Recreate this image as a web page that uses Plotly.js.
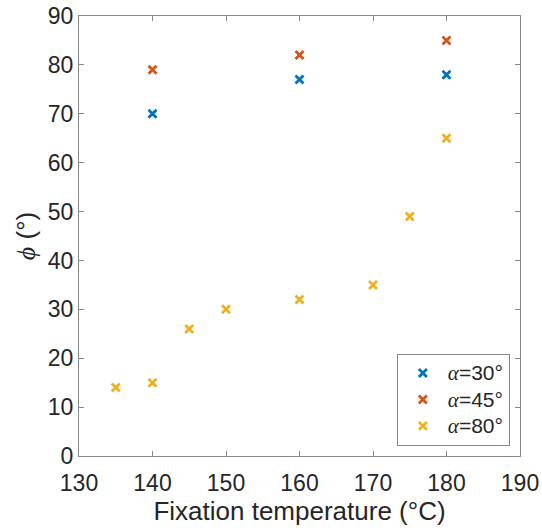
<!DOCTYPE html>
<html><head><meta charset="utf-8">
<script src="https://cdn.plot.ly/plotly-3.0.1.min.js"></script>
<style>body{margin:0;background:#fff}</style>
</head><body>
<div id="chart" style="width:542px;height:530px"></div>
<script>
const seriesNames = ["α=30°", "α=45°", "α=80°"];
const x30 = [140, 160, 180];
const y30 = [70, 77, 78];
const x45 = [140, 160, 180];
const y45 = [79, 82, 85];
const x80 = [135, 140, 145, 150, 160, 170, 175, 180];
const y80 = [14, 15, 26, 30, 32, 35, 49, 65];
const xTicks = [130, 140, 150, 160, 170, 180, 190];
const yTicks = [0, 10, 20, 30, 40, 50, 60, 70, 80, 90];
const colors = ["#0072BD", "#D95319", "#EDB120"];

const fmtName = s => '<span style="font-size:21px">' +
  s.replace(/^α/, '<span style="font-family:Liberation Serif"><i>α</i></span>') + '</span>';
const mk = (x, y, i) => ({
  x: x, y: y, type: 'scatter', mode: 'markers', name: fmtName(seriesNames[i]),
  marker: {symbol: 'x-thin', size: 8, color: colors[i], line: {width: 2.8, color: colors[i]}}
});
const data = [mk(x30, y30, 0), mk(x45, y45, 1), mk(x80, y80, 2)];
const sans = 'Liberation Sans, Arial, Helvetica, sans-serif';
const axisCommon = {
  showgrid: false, zeroline: false, showline: true, linecolor: '#888', linewidth: 1,
  mirror: 'allticks', ticks: 'inside', ticklen: 5, tickcolor: '#888',
  tickfont: {family: sans, size: 23, color: '#262626'}
};
const layout = {
  width: 542, height: 530,
  margin: {l: 79, r: 22, t: 16, b: 74},
  paper_bgcolor: '#fff', plot_bgcolor: '#fff',
  showlegend: true,
  xaxis: Object.assign({}, axisCommon, {
    range: [130, 190], tickvals: xTicks, ticktext: xTicks.map(String),
    ticklabelstandoff: 6,
    title: {text: 'Fixation temperature (°C)', standoff: 5,
      font: {family: sans, size: 26, color: '#262626'}}
  }),
  yaxis: Object.assign({}, axisCommon, {
    range: [0, 90], tickvals: yTicks, ticktext: yTicks.map(String),
    title: {text: '<span style="font-family:Liberation Serif"><i>ϕ</i></span> (°)', standoff: 4,
      font: {family: sans, size: 26, color: '#262626'}}
  }),
  legend: {
    x: 0.977, y: 0.023, xanchor: 'right', yanchor: 'bottom',
    bgcolor: '#fff', bordercolor: '#888', borderwidth: 1,
    font: {family: sans, size: 18, color: '#262626'},
    itemwidth: 40, tracegroupgap: 0
  }
};
Plotly.newPlot('chart', data, layout, {displayModeBar: false, staticPlot: true});
</script>
</body></html>
